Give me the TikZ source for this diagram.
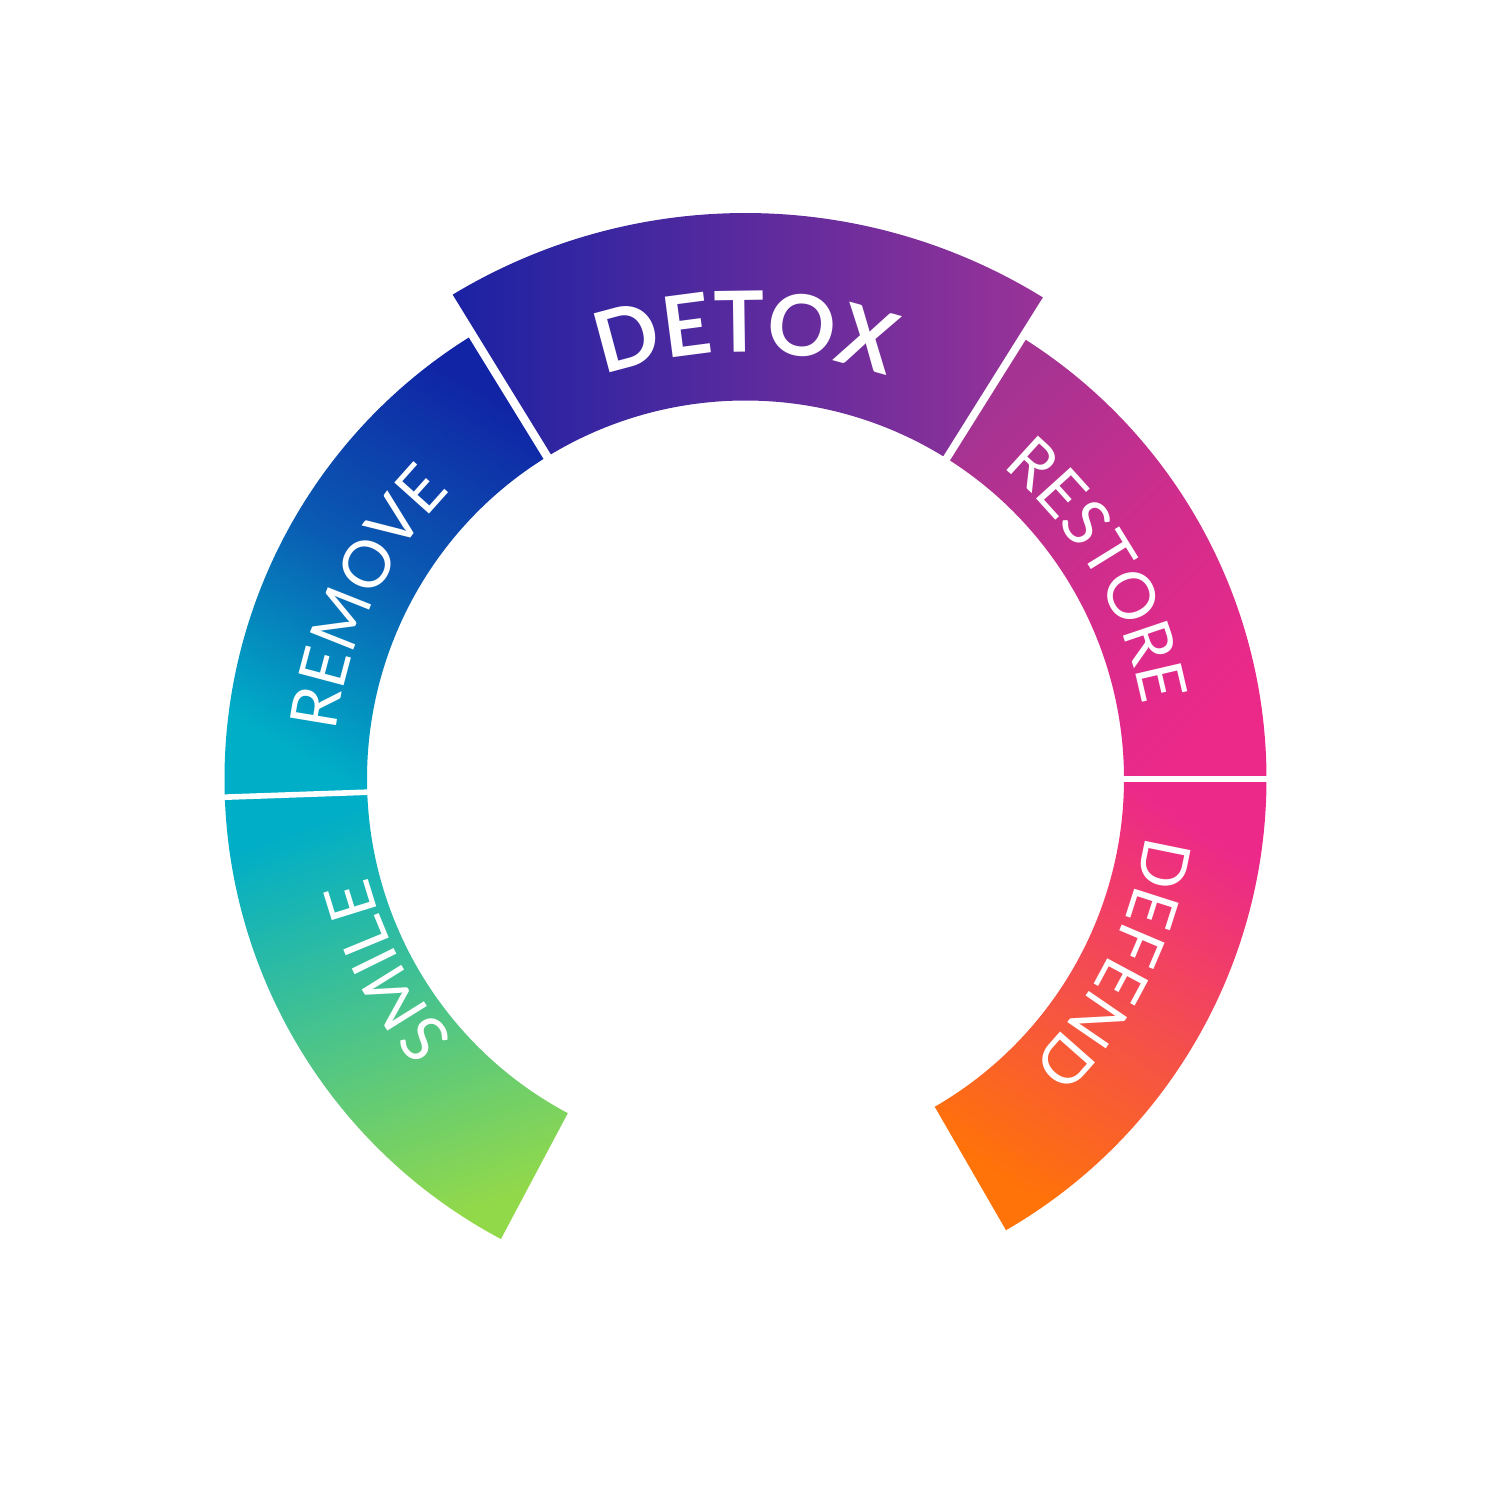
\documentclass[tikz,border=0pt]{standalone}
\usepackage{fontspec}
\setmainfont{Lato}
\usepackage{tikz}
\usetikzlibrary{decorations.text}
\definecolor{smilegreen}{HTML}{92D94A}
\definecolor{smileteal}{HTML}{4BC48A}
\definecolor{ringcyan}{HTML}{00AEC7}
\definecolor{removeblue}{HTML}{1024A5}
\definecolor{detoxblue}{HTML}{1A22A3}
\definecolor{detoxpurple}{HTML}{9A3398}
\definecolor{restorepurple}{HTML}{A43392}
\definecolor{ringpink}{HTML}{EC2989}
\definecolor{defendcoral}{HTML}{F5504A}
\definecolor{defendorange}{HTML}{FF7308}

% one annular sector: start angle, end angle, inner radius, outer radius
\newcommand{\ringsector}[4]{(#1:#3) arc[start angle=#1, end angle=#2, radius=#3] -- (#2:#4) arc[start angle=#2, end angle=#1, radius=#4] -- cycle}

\tikzset{
  ringlabel/.style={decorate, decoration={text along path, text align=center, text color=white, text={#1}}}
}

\begin{document}
\begin{tikzpicture}
  % Page background
  \fill[white] (0,0) rectangle (15,15);
  \useasboundingbox (0,0) rectangle (15,15);

  \begin{scope}[shift={(7.455,7.21)}]
    \coordinate (hub) at (0,0);

    % Ring segments with their gradients
    \foreach \a/\b/\ro/\ctop/\cbot/\cmid/\ang in {
        182/242/5.21/ringcyan/smilegreen/smileteal/20,
        122/182/5.21/removeblue/ringcyan/ringcyan!40!removeblue/-30,
        58.2/121.2/5.66/detoxpurple/detoxblue/detoxpurple!50!detoxblue/-90,
        0/57.8/5.21/restorepurple/ringpink/restorepurple!40!ringpink/45,
        -60/0/5.21/ringpink/defendorange/defendcoral/-33} {
      \shade[top color=\ctop, bottom color=\cbot, middle color=\cmid, shading angle=\ang] \ringsector{\a}{\b}{3.785}{\ro};
    }

    % White separators
    \foreach \t/\w in {0/1.6pt, 57.9/2.2pt, 121.6/2.4pt, 182/1.6pt} {
      \draw[white, line width=\w] (\t:3.6) -- (\t:5.8);
    }

    % Labels
    \path[ringlabel={|\fontsize{18.5}{18.5}\selectfont|SMILE}] (238:3.9) arc[start angle=238, end angle=178, radius=3.9];
    \path[ringlabel={|\fontsize{18.5}{18.5}\selectfont|REMOVE}] (184.5:4.12) arc[start angle=184.5, end angle=124.5, radius=4.12];
    \path[ringlabel={|\bfseries\fontsize{24}{24}\selectfont|DETOX}] (125:4.27) arc[start angle=125, end angle=55, radius=4.27];
    \path[ringlabel={|\fontsize{18.5}{18.5}\selectfont|RESTORE}] (60.5:4.04) arc[start angle=60.5, end angle=0.5, radius=4.04];
    \path[ringlabel={|\fontsize{18.5}{18.5}\selectfont|DEFEND}] (3.5:4.04) arc[start angle=3.5, end angle=-56.5, radius=4.04];
  \end{scope}
\end{tikzpicture}
\end{document}
